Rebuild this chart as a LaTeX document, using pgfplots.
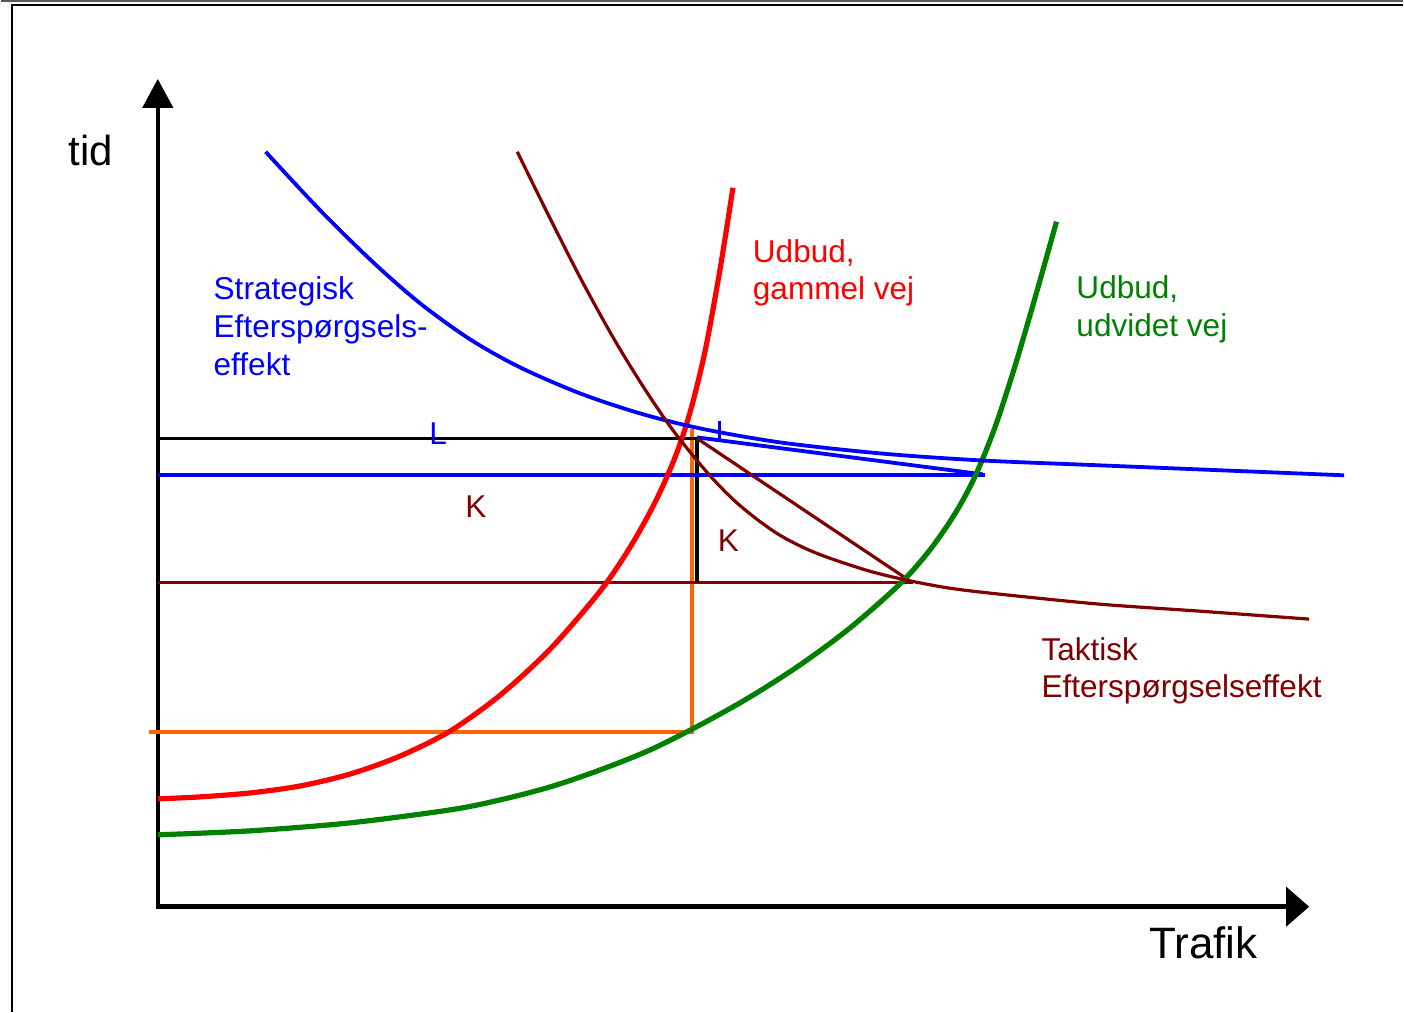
\documentclass[border=0pt]{standalone}
\usepackage{pgfplots}
\pgfplotsset{compat=1.18}
\usepackage{fontspec}
\setmainfont{Liberation Sans}
\usetikzlibrary{arrows.meta}
\definecolor{dred}{RGB}{128,0,0}
\definecolor{bl}{RGB}{0,0,255}
\definecolor{gr}{RGB}{0,128,0}
\definecolor{orng}{RGB}{255,102,0}
\tikzset{lbl/.style={anchor=base west, inner sep=0pt, outer sep=0pt, font=\fontsize{15.8}{19}\selectfont}}
\begin{document}
\begin{tikzpicture}
\begin{axis}[hide axis, scale only axis, width=702pt, height=506.5pt,
  xmin=0, xmax=1404, ymin=0, ymax=1013, y dir=reverse, clip=false]
\path (axis cs:0,0) rectangle (axis cs:1404,1013);
% frame
\addplot[gray!70!black, line width=1pt] coordinates {(0,1) (1404,1)};
\addplot[black, line width=1pt] coordinates {(10,5.5) (1404,5.5)};
\addplot[black, line width=1pt] coordinates {(11,5) (11,1013)};
% axes
\addplot[black, line width=2.25pt, -{Triangle[length=14.5pt,width=15pt]}] coordinates {(157,910) (157,79)};
\addplot[black, line width=2.25pt, -{Triangle[length=11.5pt,width=19.5pt]}] coordinates {(155,908) (1310,908)};
% orange
\addplot[orng, line width=1.7pt] coordinates {(148,733) (692,733) (692,430)};
% dark red horizontal
\addplot[dred, line width=1.6pt] coordinates {(157,583) (913,583)};
% black lines
\addplot[black, line width=1.8pt] coordinates {(157,439) (697,439) (697,583)};
% blue horizontal and straight line
\addplot[bl, line width=1.9pt] coordinates {(157,476) (985,476)};
\addplot[bl, line width=1.9pt] coordinates {(697,438) (983,475)};
\addplot[bl, line width=1.5pt] coordinates {(720,422) (720,440)};
% dark red straight line
\addplot[dred, line width=1.6pt] coordinates {(697,439) (912,583)};
% red supply, old road
\addplot[red, line width=2.6pt, smooth] coordinates {(157,800) (200,798) (250,794) (300,787) (350,775) (400,757) (450,732) (500,696) (550,650) (600,592) (630,548) (655,503) (675,458) (690,413) (705,352) (720,270) (733,188)};
% green supply, widened road
\addplot[gr, line width=2.6pt, smooth] coordinates {(157,836) (250,832) (350,824) (450,811) (500,801) (550,788) (600,771) (650,751) (700,726) (750,698) (800,666) (850,629) (900,585) (930,551) (955,515) (975,478) (995,429) (1015,368) (1035,300) (1057,222)};
% blue strategic demand
\addplot[bl, line width=1.9pt, smooth] coordinates {(265,152) (320,211) (373,263) (420,304) (470,340) (520,368) (580,394) (640,414) (700,429) (780,443) (880,454) (980,461) (1100,466) (1345,476)};
% dark red tactical demand
\addplot[dred, line width=1.6pt, smooth] coordinates {(517,152) (547,213) (580,278) (613,338) (643,387) (673,431) (707,473) (733,500) (757,520) (780,536) (805,549) (830,559) (870,572) (907,581) (950,589) (1000,595) (1100,605) (1200,612) (1310,620)};
% labels
\node[lbl, font=\fontsize{21}{25}\selectfont] at (axis cs:68,166) {tid};
\node[lbl, font=\fontsize{22}{26}\selectfont] at (axis cs:1150,960) {Trafik};
\node[lbl, text=bl] at (axis cs:213,300) {Strategisk};
\node[lbl, text=bl] at (axis cs:213,338) {Efterspørgsels-};
\node[lbl, text=bl] at (axis cs:213,376) {effekt};
\node[lbl, text=red] at (axis cs:753,263) {Udbud,};
\node[lbl, text=red] at (axis cs:753,300) {gammel vej};
\node[lbl, text=gr] at (axis cs:1077,299) {Udbud,};
\node[lbl, text=gr] at (axis cs:1077,337) {udvidet vej};
\node[lbl, text=dred] at (axis cs:1042,661) {Taktisk};
\node[lbl, text=dred] at (axis cs:1042,698) {Efterspørgselseffekt};
\node[lbl, text=dred] at (axis cs:465,518) {K};
\node[lbl, text=dred] at (axis cs:718,552) {K};
\node[lbl, text=bl] at (axis cs:429,445) {L};
\end{axis}
\end{tikzpicture}
\end{document}
